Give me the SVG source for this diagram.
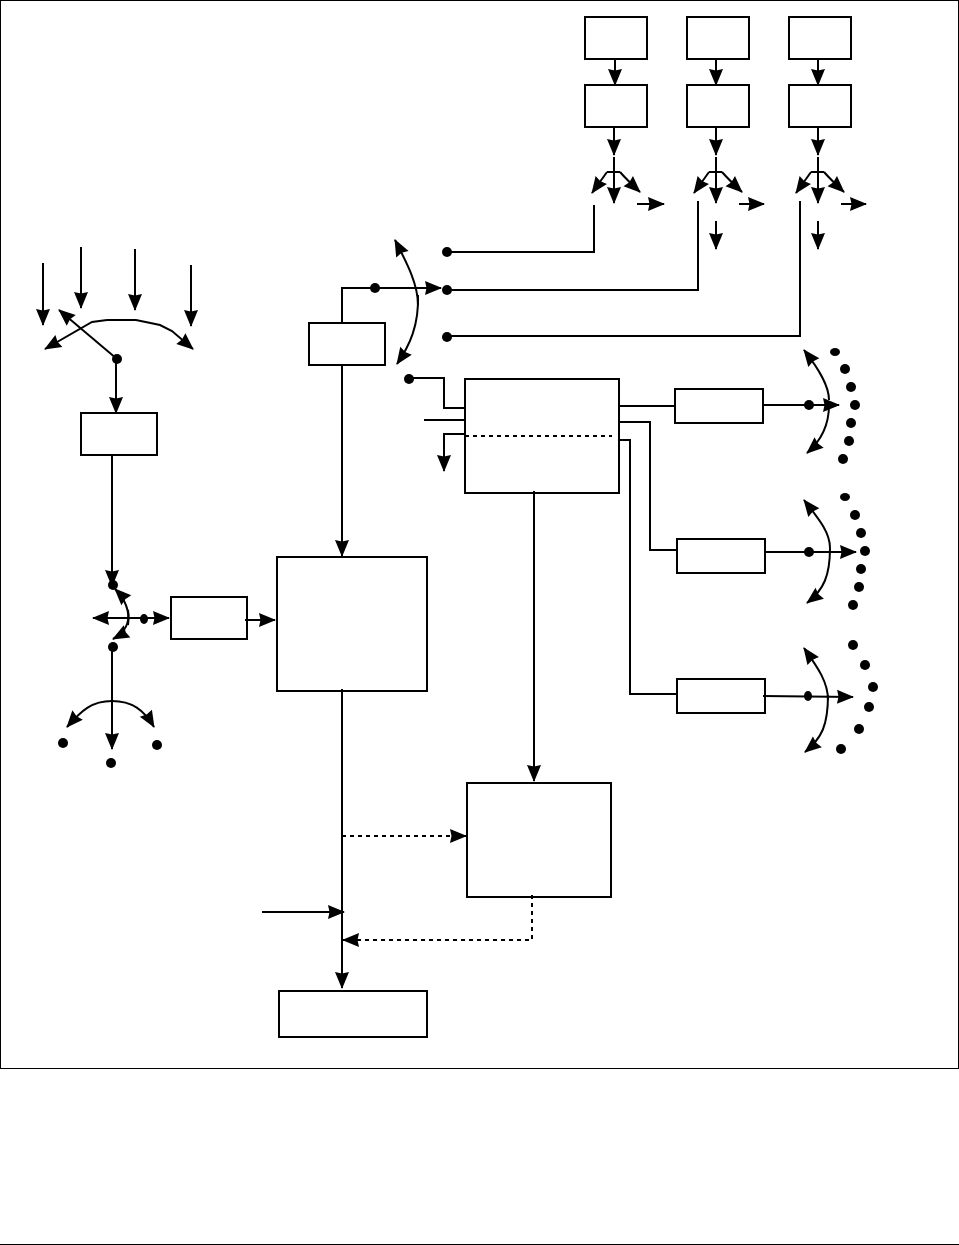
<svg xmlns="http://www.w3.org/2000/svg" width="959" height="1245" viewBox="0 0 959 1245">
<style>
.b{fill:#fff;stroke:#000;stroke-width:2}
.c{fill:none;stroke:#000;stroke-width:2;marker-end:url(#a)}
.n{fill:none;stroke:#000;stroke-width:2}
.d{fill:none;stroke:#000;stroke-width:2;stroke-dasharray:4 4}
.da{fill:none;stroke:#000;stroke-width:2;stroke-dasharray:4 4;marker-end:url(#a)}
.p{fill:#000}
</style>
<defs>
<marker id="a" markerUnits="userSpaceOnUse" markerWidth="18" markerHeight="15" refX="16" refY="7.5" orient="auto" overflow="visible">
<path d="M0,0.5 L17,7.5 L0,14.5 L1.5,7.5 Z" fill="#000"/>
</marker>
</defs>
<rect x="0.5" y="0.5" width="958" height="1068" fill="#fff" stroke="#000" stroke-width="1"/>
<line x1="0" y1="1244.5" x2="959" y2="1244.5" stroke="#000" stroke-width="1"/>
<g id="connectors">
<path class="c" d="M615,59V85"/><path class="c" d="M716,59V85"/><path class="c" d="M818,59V85"/>
<path class="c" d="M614,127V155"/><path class="c" d="M716,127V155"/><path class="c" d="M818,127V155"/>
<path class="c" d="M614,157V203"/><path class="c" d="M716,157V203"/><path class="c" d="M818,157V203"/>
<path class="c" d="M607,172L592,193"/><path class="n" d="M607,172H620"/><path class="c" d="M620,172Q627,180 640,192"/>
<path class="c" d="M709,172L694,193"/><path class="n" d="M709,172H722"/><path class="c" d="M722,172Q729,180 742,192"/>
<path class="c" d="M811,172L796,193"/><path class="n" d="M811,172H824"/><path class="c" d="M824,172Q831,180 844,192"/>
<path class="c" d="M637,204H664"/><path class="c" d="M739,204H764"/><path class="c" d="M841,204H866"/>
<path class="c" d="M716,221V249"/><path class="c" d="M818,221V249"/>
<path class="n" d="M594,205V252H447"/><path class="n" d="M698,201V290H447"/><path class="n" d="M800,201V336H447"/>
<path class="c" d="M43,263V325"/><path class="c" d="M81,247V308"/><path class="c" d="M135,249V310"/><path class="c" d="M191,265V326"/>
<path class="c" d="M107,320L92,322L45,349"/>
<path class="c" d="M107,320H136L160,325L172,331L193,349"/>
<path class="c" d="M117,359L59,310"/>
<path class="c" d="M116,359V413"/>
<path class="c" d="M112,455V586"/>
<path class="c" d="M128,625C130,612 126,600 115,589"/>
<path class="c" d="M128,610C130,622 126,632 113,639"/>
<path class="c" d="M144,618H93"/><path class="c" d="M144,618H169"/>
<path class="c" d="M112,647V749"/>
<path class="c" d="M112,701C92,701 82,710 67,727"/>
<path class="c" d="M112,701C132,701 144,710 154,727"/>
<path class="c" d="M245,620H275"/>
<path class="c" d="M342,323V288H441"/>
<path class="c" d="M342,365V556"/>
<path class="c" d="M418,305C418,285 408,265 395,240"/>
<path class="c" d="M418,295C419,325 410,345 397,364"/>
<path class="n" d="M409,378H444V408H465"/>
<path class="n" d="M424,420H465"/>
<path class="c" d="M464,434H444V471"/>
<path class="d" d="M465,436H612"/>
<path class="c" d="M534,491V781"/>
<path class="c" d="M342,689V988"/>
<path class="da" d="M342,836H466"/>
<path class="c" d="M262,912H344"/>
<path class="da" d="M532,895V940H343"/>
<path class="n" d="M619,406H675"/>
<path class="n" d="M619,422H650V550H677"/>
<path class="n" d="M619,440H630V694H677"/>
<path class="c" d="M762,405H839"/>
<path class="c" d="M829,400C829,385 818,368 804,350"/>
<path class="c" d="M829,405C829,425 822,440 807,453"/>
<path class="c" d="M765,552H856"/>
<path class="c" d="M830,548C830,532 818,518 804,500"/>
<path class="c" d="M830,548C830,575 824,590 807,603"/>
<path class="c" d="M763,696L853,697"/>
<path class="c" d="M828,700C828,682 818,668 804,648"/>
<path class="c" d="M828,695C828,725 822,738 805,752"/>
</g>
<g id="n1"><rect class="b" x="585" y="17" width="62" height="42"/></g>
<g id="n2"><rect class="b" x="687" y="17" width="62" height="42"/></g>
<g id="n3"><rect class="b" x="789" y="17" width="62" height="42"/></g>
<g id="n4"><rect x="585" y="85" width="62" height="42" fill="none" stroke="#000" stroke-width="2"/></g>
<g id="n5"><rect x="687" y="85" width="62" height="42" fill="none" stroke="#000" stroke-width="2"/></g>
<g id="n6"><rect x="789" y="85" width="62" height="42" fill="none" stroke="#000" stroke-width="2"/></g>
<g id="n7"><rect x="309" y="323" width="76" height="42" fill="none" stroke="#000" stroke-width="2"/></g>
<g id="n8"><rect x="81" y="413" width="76" height="42" fill="none" stroke="#000" stroke-width="2"/></g>
<g id="n9"><rect x="171" y="597" width="76" height="42" fill="none" stroke="#000" stroke-width="2"/></g>
<g id="n10"><rect x="277" y="557" width="150" height="134" fill="none" stroke="#000" stroke-width="2"/></g>
<g id="n11"><rect x="465" y="379" width="154" height="114" fill="none" stroke="#000" stroke-width="2"/></g>
<g id="n12"><rect x="675" y="389" width="88" height="34" fill="none" stroke="#000" stroke-width="2"/></g>
<g id="n13"><rect x="677" y="539" width="88" height="34" fill="none" stroke="#000" stroke-width="2"/></g>
<g id="n14"><rect x="677" y="679" width="88" height="34" fill="none" stroke="#000" stroke-width="2"/></g>
<g id="n15"><rect x="467" y="783" width="144" height="114" fill="none" stroke="#000" stroke-width="2"/></g>
<g id="n16"><rect class="b" x="279" y="991" width="148" height="46"/></g>
<g id="dots" class="p">
<circle cx="447" cy="252" r="5"/><circle cx="447" cy="290" r="5"/><circle cx="447" cy="337" r="5"/><circle cx="409" cy="379" r="5"/><circle cx="375" cy="288" r="5"/>
<circle cx="117" cy="359" r="5"/><circle cx="113" cy="585" r="5"/><ellipse cx="144" cy="619" rx="4" ry="5"/><circle cx="113" cy="647" r="5"/>
<circle cx="63" cy="743" r="5"/><circle cx="111" cy="763" r="5"/><circle cx="157" cy="745" r="5"/>
<circle cx="809" cy="405" r="5"/><ellipse cx="835" cy="352" rx="5" ry="4"/><circle cx="845" cy="369" r="5"/><circle cx="851" cy="387" r="5"/><circle cx="855" cy="405" r="5"/><circle cx="851" cy="423" r="5"/><circle cx="849" cy="441" r="5"/><circle cx="843" cy="459" r="5"/>
<circle cx="809" cy="552" r="5"/><ellipse cx="845" cy="497" rx="5" ry="4"/><circle cx="855" cy="515" r="5"/><circle cx="861" cy="533" r="5"/><circle cx="865" cy="551" r="5"/><circle cx="861" cy="569" r="5"/><circle cx="859" cy="587" r="5"/><circle cx="853" cy="605" r="5"/>
<ellipse cx="808" cy="696" rx="4" ry="5"/><circle cx="853" cy="645" r="5"/><circle cx="865" cy="665" r="5"/><circle cx="873" cy="687" r="5"/><circle cx="869" cy="707" r="5"/><circle cx="859" cy="729" r="5"/><circle cx="841" cy="749" r="5"/>
</g>
</svg>
